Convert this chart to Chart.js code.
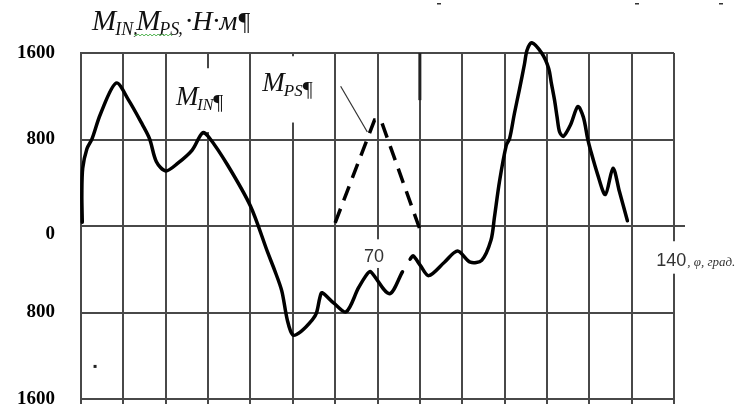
<!DOCTYPE html>
<html>
<head>
<meta charset="utf-8">
<script src="https://cdn.jsdelivr.net/npm/chart.js@4.4.1/dist/chart.umd.min.js"></script>
<style>
  html, body { margin: 0; padding: 0; background: #fff; }
  canvas { display: block; }
</style>
</head>
<body>
<canvas id="torque" width="753" height="408"></canvas>
<script>
// Crank angle, degrees, and inertia torque M_IN, N·m (null = break in the curve)
const inAngle = [0.3, 0.2, 0.4, 1.4, 2.6, 4.6, 8.3, 11.2, 14.5, 16.2, 17.8, 20, 22.8, 26.2, 28.7, 30.2,
  34.6, 40, 44.1, 45.7, 47.4, 48.7, 50, 51.9, 54.6, 55.6, 56.4, 56.9, 59.7, 62.6, 65.5, 67.6, 68.4,
  72.8, 75.9, 76.8, 77.7, 78.4, 80.1, 82.1, 85.8, 88.9, 91.9, 94.6, 96.8, 97.6, 98.8, 100.4, 101.2,
  102.3, 103.5, 104.7, 105.3, 106.4, 108.8, 110.4, 111.0, 111.8, 112.4, 113.0, 113.9, 115.6, 117.3,
  118.6, 119.6, 120.2, 122, 123.8, 125.6, 127.1, 129];
const inTorque = [34, 291, 534, 715, 806, 1036, 1322, 1167, 938, 806, 594, 509, 579, 700, 862, 821,
  564, 185, -247, -408, -600, -868, -1007, -976, -868, -803, -661, -617, -714, -794, -573, -441, -423,
  -626, -423, null, -306, -276, -364, -459, -335, -232, -335, -318, -130, 79, 412, 745, 810,
  1036, 1262, 1498, 1626, 1695, 1597, 1459, 1331, 1164, 1007, 869, 830, 938, 1105,
  1007, 810, 715, 473, 291, 534, 321, 48];

// Pressure torque M_PS, N·m
const psAngle = [60, 69.3, 70.8, 80];
const psTorque = [30, 980, 980, -30];

// Axis ticks
const yTickValues = [1600, 800, 0, -800, -1600];
const yTickLabels = ['1600', '800', '0', '800', '1600'];
const xTickLabels = ['70', '140'];
const xUnitText = ', \u03C6, \u0433\u0440\u0430\u0434.';

const toPoints = (xs, ys) => xs.map((v, i) => ({ x: v, y: ys[i] }));

const SERIF = '"Liberation Serif", "Times New Roman", serif';
const SANS = '"Liberation Sans", Arial, sans-serif';
const GRID = '#484848';

// draws "M" with an italic subscript, returns the x after the subscript
function drawM(ctx, x, base, sub, big, small) {
  ctx.font = `italic ${big}px ${SERIF}`;
  ctx.fillText('M', x, base);
  x += ctx.measureText('M').width - 1;
  ctx.font = `italic ${small}px ${SERIF}`;
  ctx.fillText(sub, x, base + small * 0.3);
  return x + ctx.measureText(sub).width;
}

const figureMarks = {
  id: 'figureMarks',
  beforeDatasetsDraw(chart) {
    const { ctx, chartArea: a } = chart;
    const xs = chart.scales.x, ys = chart.scales.y;
    const px = v => xs.getPixelForValue(v);
    const py = v => ys.getPixelForValue(v);
    ctx.save();
    ctx.textBaseline = 'alphabetic';
    ctx.textAlign = 'left';

    // white panels behind the curve names
    ctx.fillStyle = '#fff';
    ctx.fillRect(px(20.6), py(1459), px(39.5) - px(20.6), py(869) - py(1459));
    ctx.fillRect(px(40.8), py(1570), px(59.3) - px(40.8), py(957) - py(1570));
    // breaks in the 70 and 140 grid lines where their labels sit
    ctx.fillRect(px(70) - 3, py(-123), 6, py(-388) - py(-123));
    ctx.fillRect(px(140) - 3, py(-141), 6, py(-441) - py(-141));

    // short stub left on the 30 line inside the M_IN panel
    ctx.strokeStyle = GRID;
    ctx.lineWidth = 1.8;
    ctx.beginPath();
    ctx.moveTo(px(30), py(1560));
    ctx.lineTo(px(30), py(1465));
    ctx.stroke();

    // heavier top segment of the 80 line
    ctx.strokeStyle = '#222';
    ctx.lineWidth = 3;
    ctx.beginPath();
    ctx.moveTo(px(80), py(1600));
    ctx.lineTo(px(80), py(1164));
    ctx.stroke();

    // zero line runs a little past the frame
    ctx.strokeStyle = GRID;
    ctx.lineWidth = 2;
    ctx.beginPath();
    ctx.moveTo(a.right, py(0));
    ctx.lineTo(a.right + 11, py(0));
    ctx.stroke();

    // leader from the M_PS name to its curve
    ctx.strokeStyle = '#333';
    ctx.lineWidth = 1.2;
    ctx.beginPath();
    ctx.moveTo(px(61.3), py(1292));
    ctx.lineTo(px(67.6), py(869));
    ctx.stroke();

    // curve names
    ctx.fillStyle = '#111';
    let e = drawM(ctx, px(22.4), py(1115), 'IN', 27, 16);
    ctx.font = `22px ${SERIF}`;
    ctx.fillText('\u00B6', e, py(1115) + 4);
    e = drawM(ctx, px(42.8), py(1253), 'PS', 27, 17);
    ctx.font = `22px ${SERIF}`;
    ctx.fillText('\u00B6', e, py(1253) + 5);

    // angle labels on the zero line
    ctx.fillStyle = '#333';
    ctx.font = `18px ${SANS}`;
    ctx.textAlign = 'center';
    ctx.textBaseline = 'middle';
    ctx.fillText(xTickLabels[0], px(69.2), py(-291));
    ctx.textAlign = 'left';
    ctx.textBaseline = 'alphabetic';
    const b140 = py(-370);
    ctx.fillText(xTickLabels[1], px(135.8), b140);
    const w140 = ctx.measureText(xTickLabels[1]).width;
    ctx.font = `italic 13px ${SERIF}`;
    ctx.fillText(xUnitText, px(135.8) + w140 + 1, b140);

    // small dot in the lower-left cell
    ctx.fillStyle = '#222';
    ctx.fillRect(px(3.2) - 1, py(-1294) - 1, 3, 3);

    // axis caption above the frame
    ctx.fillStyle = '#111';
    const base = 30;
    let x = drawM(ctx, 92, base, 'IN', 29, 18);
    ctx.font = `italic 18px ${SERIF}`;
    ctx.fillText(',', x, base + 4);
    x += 3;
    const psStart = x;
    x = drawM(ctx, x, base, 'PS', 29, 18);
    ctx.font = `italic 18px ${SERIF}`;
    ctx.fillText(',', x - 1, base + 4);
    x += 6;
    ctx.font = `italic 28px ${SERIF}`;
    ctx.fillText('\u00B7\u041D\u00B7\u043C', x, base);
    x += ctx.measureText('\u00B7\u041D\u00B7\u043C').width + 1;
    ctx.font = `26px ${SERIF}`;
    ctx.fillText('\u00B6', x, base);

    // wavy proofing underline
    ctx.strokeStyle = '#49b049';
    ctx.lineWidth = 1;
    ctx.beginPath();
    for (let i = 0, sx = psStart - 2; sx <= psStart + 36; i++, sx += 2) {
      const sy = 35 + (i % 2 ? 1 : -1);
      if (i === 0) ctx.moveTo(sx, sy); else ctx.lineTo(sx, sy);
    }
    ctx.stroke();

    // faint marks along the top edge
    ctx.fillStyle = '#333';
    [437, 635, 719].forEach(mx => ctx.fillRect(mx, 3, 4, 1.5));

    ctx.restore();
  }
};

new Chart(document.getElementById('torque'), {
  type: 'line',
  data: {
    datasets: [
      {
        label: 'M_IN',
        data: toPoints(inAngle, inTorque),
        borderColor: '#000',
        borderWidth: 3.5,
        tension: 0.3,
        spanGaps: false,
        pointRadius: 0,
        borderCapStyle: 'round',
        borderJoinStyle: 'round',
        clip: false
      },
      {
        label: 'M_PS',
        data: toPoints(psAngle, psTorque),
        borderColor: '#000',
        borderWidth: 3.5,
        borderDash: [15, 9],
        tension: 0,
        pointRadius: 0,
        clip: false
      }
    ]
  },
  options: {
    responsive: false,
    animation: false,
    devicePixelRatio: 1,
    layout: { padding: { left: 0, right: 79, top: 53, bottom: 9 } },
    plugins: { legend: { display: false }, tooltip: { enabled: false } },
    scales: {
      x: {
        type: 'linear',
        min: 0,
        max: 140,
        afterFit: s => { s.height = 0; s.paddingLeft = 0; s.paddingRight = 0; },
        ticks: { display: false, stepSize: 10 },
        grid: { color: GRID, lineWidth: 2, drawTicks: true, tickLength: 5 },
        border: { display: false }
      },
      y: {
        min: -1600,
        max: 1600,
        // fixed axis width; labels are allowed to sit in the page margins
        afterFit: s => { s.width = 81; s.paddingTop = 0; s.paddingBottom = 0; },
        ticks: {
          stepSize: 800,
          padding: 26,
          color: '#000',
          font: { family: SERIF, size: 19, weight: 'bold', lineHeight: 0.85 },
          callback: v => {
            const i = yTickValues.indexOf(v);
            if (i < 0) return '';
            return v === 0 ? ['', yTickLabels[i]] : yTickLabels[i];
          }
        },
        grid: { color: GRID, lineWidth: 2, drawTicks: false },
        border: { display: true, color: GRID, width: 2 }
      }
    }
  },
  plugins: [figureMarks]
});
</script>
</body>
</html>
